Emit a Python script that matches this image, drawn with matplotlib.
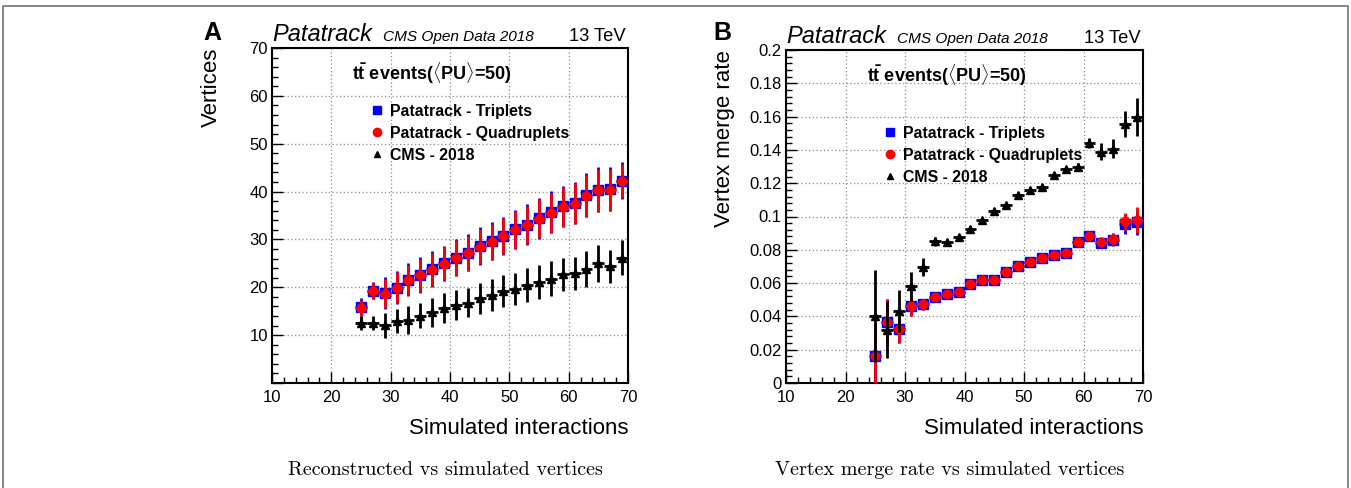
import numpy as np
import matplotlib
matplotlib.use("Agg")
import matplotlib.pyplot as plt
from matplotlib.lines import Line2D
from matplotlib.ticker import MultipleLocator, FuncFormatter

plt.rcParams["font.family"] = ["Liberation Sans", "DejaVu Sans"]
plt.rcParams["mathtext.fontset"] = "custom"
plt.rcParams["mathtext.rm"] = "Liberation Sans"
plt.rcParams["mathtext.bf"] = "Liberation Sans:bold"

# simulated interactions (bin centres, bins are 2 wide)
sim_int = [25, 27, 29, 31, 33, 35, 37, 39, 41, 43, 45, 47,
           49, 51, 53, 55, 57, 59, 61, 63, 65, 67, 69]
bin_half = [1] * len(sim_int)

# panel A: reconstructed vertices
trip_vtx = [15.8, 19.3, 18.8, 19.9, 21.6, 22.6, 23.8, 25.0, 26.2, 27.2, 28.6, 29.6,
            30.8, 32.1, 33.1, 34.4, 35.7, 36.9, 37.6, 39.2, 40.4, 40.5, 42.3]
trip_vtx_err = [1.9, 1.8, 3.3, 3.4, 3.4, 3.7, 3.7, 3.7, 3.9, 3.9, 3.9, 3.95,
                3.95, 4.1, 4.2, 4.25, 4.4, 4.3, 4.4, 4.6, 4.7, 4.6, 3.8]
quad_vtx = [15.7, 19.2, 18.7, 19.9, 21.5, 22.5, 23.7, 24.9, 26.1, 27.1, 28.5, 29.5,
            30.7, 32.0, 33.0, 34.3, 35.6, 36.8, 37.5, 39.1, 40.3, 40.4, 42.2]
quad_vtx_err = [1.7, 1.6, 3.1, 3.2, 3.2, 3.5, 3.5, 3.5, 3.7, 3.7, 3.7, 3.75,
                3.75, 3.9, 4.0, 4.05, 4.2, 4.1, 4.2, 4.4, 4.5, 4.4, 3.6]
cms_vtx = [12.6, 12.5, 12.1, 12.9, 13.1, 14.1, 14.75, 15.7, 16.3, 16.8, 17.7, 18.4,
           19.2, 19.7, 20.5, 21.1, 21.8, 22.7, 22.9, 23.8, 25.0, 24.4, 26.2]
cms_vtx_err = [1.5, 1.5, 2.6, 2.5, 2.9, 2.6, 3.1, 3.1, 3.1, 3.1, 3.3, 3.4,
               3.4, 3.3, 3.5, 3.6, 3.6, 3.5, 3.5, 3.8, 3.8, 3.4, 3.6]

# panel B: vertex merge rate
trip_merge = [0.016, 0.0364, 0.0324, 0.0464, 0.0472, 0.0516, 0.0532, 0.0548, 0.0592, 0.0616, 0.0618, 0.0666,
              0.070, 0.0724, 0.0748, 0.0766, 0.0782, 0.0844, 0.0884, 0.0842, 0.0860, 0.0956, 0.0966]
trip_merge_err = [0.02, 0.014, 0.0085, 0.006, 0.0035, 0.002, 0.002, 0.002, 0.002, 0.002, 0.002, 0.002,
                  0.002, 0.002, 0.002, 0.002, 0.002, 0.002, 0.002, 0.003, 0.004, 0.006, 0.0075]
quad_merge = [0.016, 0.0364, 0.0324, 0.0464, 0.0472, 0.0516, 0.0532, 0.0548, 0.0592, 0.0616, 0.0618, 0.0666,
              0.070, 0.0724, 0.0748, 0.0766, 0.0782, 0.0844, 0.0884, 0.0844, 0.0862, 0.097, 0.098]
quad_merge_err = [0.02, 0.014, 0.0085, 0.006, 0.0035, 0.002, 0.002, 0.002, 0.002, 0.002, 0.002, 0.002,
                  0.002, 0.002, 0.002, 0.002, 0.002, 0.002, 0.002, 0.003, 0.0035, 0.005, 0.008]
cms_merge = [0.040, 0.032, 0.0432, 0.058, 0.0696, 0.085, 0.0844, 0.0876, 0.0924, 0.098, 0.1036, 0.1072,
             0.113, 0.116, 0.118, 0.125, 0.1286, 0.130, 0.1442, 0.139, 0.1406, 0.1556, 0.1596]
cms_merge_err = [0.0276, 0.017, 0.0124, 0.0086, 0.0054, 0.0026, 0.002, 0.002, 0.0018, 0.0018, 0.0018, 0.0018,
                 0.0018, 0.0018, 0.0018, 0.0018, 0.002, 0.002, 0.003, 0.005, 0.0057, 0.008, 0.0115]

labels = ["Patatrack - Triplets", "Patatrack - Quadruplets", "CMS - 2018"]
header = r"$\mathbf{t\bar{t}}$ events($\langle$PU$\rangle$=50)"


def draw_panel(ax, trip, trip_err, quad, quad_err, cms, cms_err):
    ax.errorbar(sim_int, trip, yerr=trip_err, xerr=bin_half, fmt="s", color="#0000ff",
                ms=7.2, elinewidth=2, capsize=0, zorder=3)
    ax.errorbar(sim_int, quad, yerr=quad_err, xerr=bin_half, fmt="o", color="#ff0000",
                ms=6.2, elinewidth=2, capsize=0, zorder=4)
    ax.errorbar(sim_int, cms, yerr=cms_err, xerr=bin_half, fmt="^", color="black",
                ms=5.5, elinewidth=2, capsize=0, zorder=5)
    ax.set_xlim(10, 70)
    ax.xaxis.set_major_locator(MultipleLocator(10))
    ax.xaxis.set_minor_locator(MultipleLocator(2))
    ax.grid(True, which="major", color="0.55", linestyle=(0, (1, 2)), linewidth=0.9)
    ax.tick_params(which="both", direction="in", top=False, right=False, labelsize=12, pad=3)
    ax.tick_params(axis="x", which="both", pad=5)
    ax.tick_params(which="major", length=8, width=1)
    ax.tick_params(which="minor", length=4, width=1)
    for sp in ax.spines.values():
        sp.set_linewidth(1.5)
    ax.set_xlabel("Simulated interactions", fontsize=16, loc="right")
    ax.xaxis.set_label_coords(1.0, -0.104)
    ax.text(0.0, 1.021, "Patatrack", transform=ax.transAxes, fontsize=17,
            style="italic", va="baseline", ha="left")
    ax.text(0.312, 1.021, "CMS Open Data 2018", transform=ax.transAxes, fontsize=11.1,
            style="italic", va="baseline", ha="left")
    ax.text(0.993, 1.021, "13 TeV", transform=ax.transAxes, fontsize=13.2,
            va="baseline", ha="right")
    ax.text(0.45, 0.925, header, transform=ax.transAxes, fontsize=13,
            fontweight="bold", va="center", ha="center")


fig = plt.figure(figsize=(13.51, 4.88), dpi=100)
axA = fig.add_axes([272 / 1351, 105 / 488, 356 / 1351, 335 / 488])
axB = fig.add_axes([786 / 1351, 105 / 488, 357 / 1351, 333 / 488])

draw_panel(axA, trip_vtx, trip_vtx_err, quad_vtx, quad_vtx_err, cms_vtx, cms_vtx_err)
axA.set_ylim(0, 70)
axA.yaxis.set_major_locator(MultipleLocator(10))
axA.yaxis.set_minor_locator(MultipleLocator(2))
axA.yaxis.set_major_formatter(FuncFormatter(lambda v, p: "" if v < 1 else f"{v:g}"))
axA.set_ylabel("Vertices", fontsize=16, loc="top")
axA.yaxis.set_label_coords(-0.14, 1.0)

draw_panel(axB, trip_merge, trip_merge_err, quad_merge, quad_merge_err, cms_merge, cms_merge_err)
axB.set_ylim(0, 0.2)
axB.yaxis.set_major_locator(MultipleLocator(0.02))
axB.yaxis.set_minor_locator(MultipleLocator(0.004))
axB.yaxis.set_major_formatter(FuncFormatter(lambda v, p: f"{round(v, 4):g}"))
axB.set_ylabel("Vertex merge rate", fontsize=16, loc="top")
axB.yaxis.set_label_coords(-0.143, 1.0)

handles = [Line2D([], [], marker="s", color="#0000ff", ls="none", ms=6),
           Line2D([], [], marker="o", color="#ff0000", ls="none", ms=6),
           Line2D([], [], marker="^", color="black", ls="none", ms=4.5)]
for anchor in [(369 / 1351, 1 - 104 / 488), (882 / 1351, 1 - 126 / 488)]:
    fig.legend(handles, labels, loc="upper left", bbox_to_anchor=anchor,
               frameon=False, borderpad=0, borderaxespad=0, handlelength=1.0,
               handletextpad=0.33, labelspacing=0.44,
               prop={"weight": "bold", "size": 11.4})

fig.text(203 / 1351, 1 - 40 / 488, "A", fontsize=18, fontweight="bold", va="baseline")
fig.text(713 / 1351, 1 - 40 / 488, "B", fontsize=18, fontweight="bold", va="baseline")

fig.text(445 / 1351, 0.036, "Reconstructed vs simulated vertices", family="cmr10",
         fontsize=14.5, ha="center", va="center")
fig.text(950 / 1351, 0.036, "Vertex merge rate vs simulated vertices", family="cmr10",
         fontsize=14.5, ha="center", va="center")

# thin page border
fig.add_artist(Line2D([3 / 1351, 3 / 1351, 1348 / 1351, 1348 / 1351],
                      [0, 1 - 6 / 488, 1 - 6 / 488, 0], transform=fig.transFigure,
                      color="0.45", lw=1.2))

fig.savefig("out.png", dpi=100)
